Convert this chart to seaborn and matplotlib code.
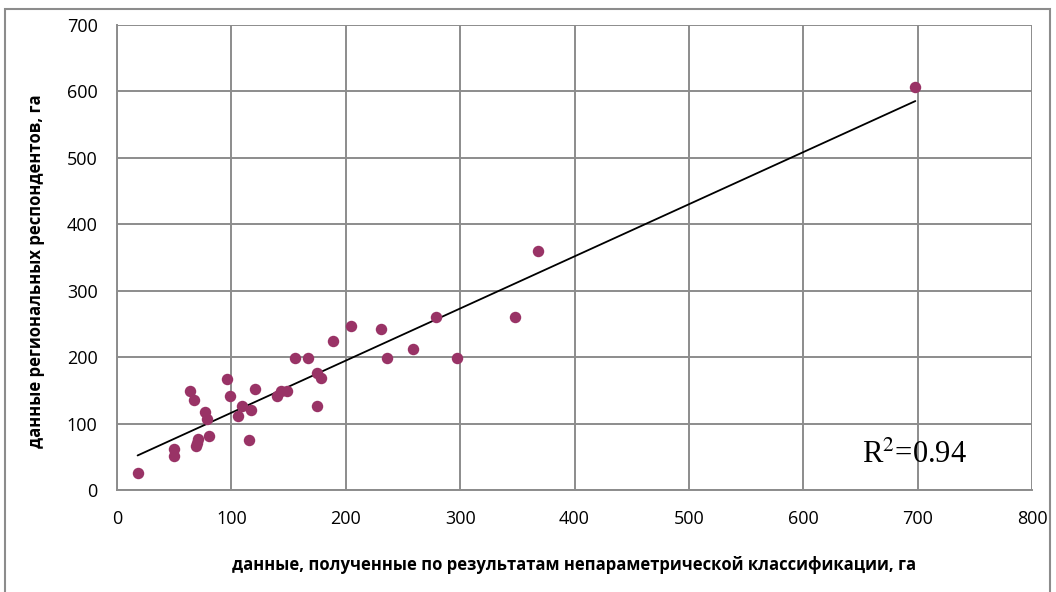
import numpy as np
import pandas as pd
import seaborn as sns
import matplotlib.pyplot as plt

# данные
x_klass = [18, 50, 50, 64, 67, 69, 70, 71, 77, 79, 80, 96, 99, 106, 109, 115, 117, 121,
           140, 143, 149, 156, 167, 175, 178, 175, 189, 205, 231, 236, 259, 279, 297,
           348, 368, 698]
y_resp = [26, 62, 52, 149, 136, 67, 71, 77, 117, 107, 82, 167, 142, 112, 127, 75, 120, 152,
          142, 149, 149, 199, 199, 177, 169, 127, 224, 247, 242, 199, 212, 260, 199,
          260, 360, 607]
r2_text = "R$^2$=0.94"

df = pd.DataFrame({"x": x_klass, "y": y_resp})

sns.set_theme(style="white")
plt.rcParams["font.family"] = ["Open Sans", "DejaVu Sans"]
plt.rcParams["text.color"] = "black"
plt.rcParams["axes.labelcolor"] = "black"
plt.rcParams["xtick.color"] = "black"
plt.rcParams["ytick.color"] = "black"

fig = plt.figure(figsize=(10.56, 5.92), dpi=100)
ax = fig.add_axes([0.1108, 0.1718, 0.8665, 0.7865])

grid_col = "#8c8c8c"
sns.regplot(data=df, x="x", y="y", ax=ax, ci=None, truncate=True,
            scatter_kws={"s": 68, "color": "#993366", "alpha": 1, "linewidths": 0, "zorder": 3},
            line_kws={"color": "black", "linewidth": 1.3, "zorder": 2})

ax.set_xlim(0, 800)
ax.set_ylim(0, 700)
ax.set_xticks(range(0, 801, 100))
ax.set_yticks(range(0, 701, 100))
ax.grid(True, color=grid_col, linewidth=1.4)
ax.set_axisbelow(True)
for side in ["top", "right"]:
    ax.spines[side].set_visible(False)
for side in ["left", "bottom"]:
    ax.spines[side].set_color(grid_col)
    ax.spines[side].set_linewidth(1.4)
ax.tick_params(axis="both", direction="out", length=6, width=1.4, color=grid_col,
               labelcolor="black", labelsize=13, pad=8)

ax.set_xlabel("данные, полученные по результатам непараметрической классификации, га",
              fontsize=12, fontweight="bold", labelpad=20)
ax.set_ylabel("данные региональных респондентов, га",
              fontsize=12, fontweight="bold", labelpad=14)
ax.yaxis.set_label_coords(-0.079, 0.47)

ax.text(651, 53, r2_text, fontsize=22, family="Liberation Serif",
        ha="left", va="center", math_fontfamily="stix")

# рамка вокруг диаграммы
fig.patches.append(plt.Rectangle((0.005, -0.01), 0.989, 0.995, transform=fig.transFigure,
                                 fill=False, edgecolor="#8c8c8c", linewidth=1.5))

fig.savefig("out.png", dpi=100)
